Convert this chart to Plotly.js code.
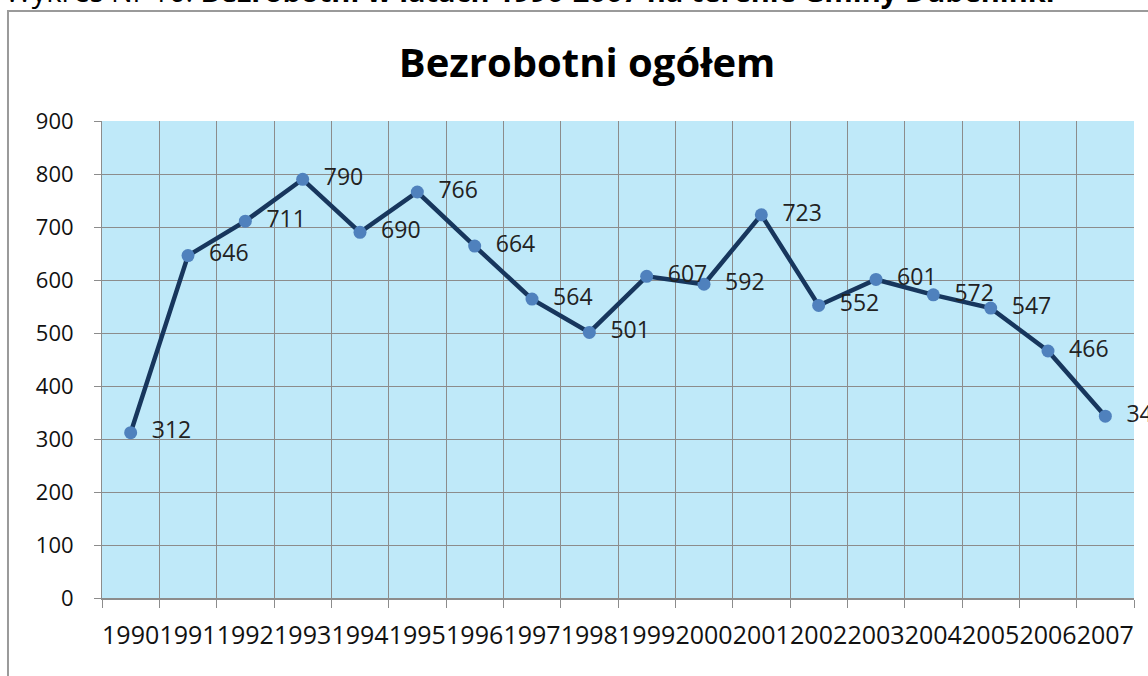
<!DOCTYPE html>
<html>
<head>
<meta charset="utf-8">
<script src="https://cdn.plot.ly/plotly-3.0.1.min.js"></script>
<style>html,body{margin:0;padding:0;background:#fff;}#chart{width:1148px;height:676px;}</style>
</head>
<body>
<div id="chart"></div>
<script>
const years = ["1990","1991","1992","1993","1994","1995","1996","1997","1998","1999","2000","2001","2002","2003","2004","2005","2006","2007"];
const unemployed = [312, 646, 711, 790, 690, 766, 664, 564, 501, 607, 592, 723, 552, 601, 572, 547, 466, 343];
const chartTitle = "Bezrobotni ogółem";
const figureCaption = "Wykres Nr 16: <b>Bezrobotni w latach 1990-2007 na terenie Gminy Dubeninki</b>";

const trace = {
  type: "scatter",
  mode: "lines+markers+text",
  x: years,
  y: unemployed,
  text: unemployed.map(v => "  " + v),
  textposition: "middle right",
  textfont: {family: "Open Sans, sans-serif", size: 23, color: "#222"},
  line: {color: "#17365D", width: 4.5},
  marker: {color: "#4F81BD", size: 13},
  cliponaxis: false,
  hoverinfo: "x+y"
};

const layout = {
  width: 1148, height: 676,
  margin: {l: 102, r: 14, t: 121, b: 78},
  paper_bgcolor: "#ffffff",
  plot_bgcolor: "#BFE9F9",
  showlegend: false,
  title: {text: chartTitle, font: {family: "Open Sans, sans-serif", size: 40, color: "#000", weight: "bold"}, xref: "paper", x: 0.47, xanchor: "center", y: 0.907, yanchor: "middle"},
  xaxis: {
    type: "category",
    range: [-0.5, 17.5],
    autorange: false,
    tickson: "boundaries",
    showgrid: true, gridcolor: "#8C8C8C", gridwidth: 1,
    ticks: "outside", ticklen: 8, tickcolor: "#8C8C8C",
    showline: true, linecolor: "#8C8C8C", linewidth: 2,
    tickfont: {family: "Open Sans, sans-serif", size: 25, color: "#111"},
    ticklabelstandoff: 14,
    tickangle: 0,
    zeroline: false
  },
  yaxis: {
    range: [0, 900], dtick: 100, tick0: 0,
    showgrid: true, gridcolor: "#8C8C8C", gridwidth: 1,
    ticks: "outside", ticklen: 7, tickcolor: "#8C8C8C",
    showline: true, linecolor: "#8C8C8C", linewidth: 1,
    tickfont: {family: "Open Sans, sans-serif", size: 22, color: "#111"},
    ticklabelstandoff: 16,
    zeroline: false
  },
  shapes: [{
    type: "rect", xref: "paper", yref: "paper",
    x0: -0.0911, x1: 1.1, y0: -0.3, y1: 1.2306,
    line: {color: "#9A9A9A", width: 2}, fillcolor: "rgba(0,0,0,0)", layer: "below"
  }],
  annotations: [{
    text: figureCaption, xref: "paper", yref: "paper",
    x: -0.096, xanchor: "left", y: 1.228, yanchor: "bottom",
    showarrow: false, font: {family: "Open Sans, sans-serif", size: 29, color: "#000"}
  }]
};

Plotly.newPlot("chart", [trace], layout, {displayModeBar: false, staticPlot: true});
</script>
</body>
</html>
